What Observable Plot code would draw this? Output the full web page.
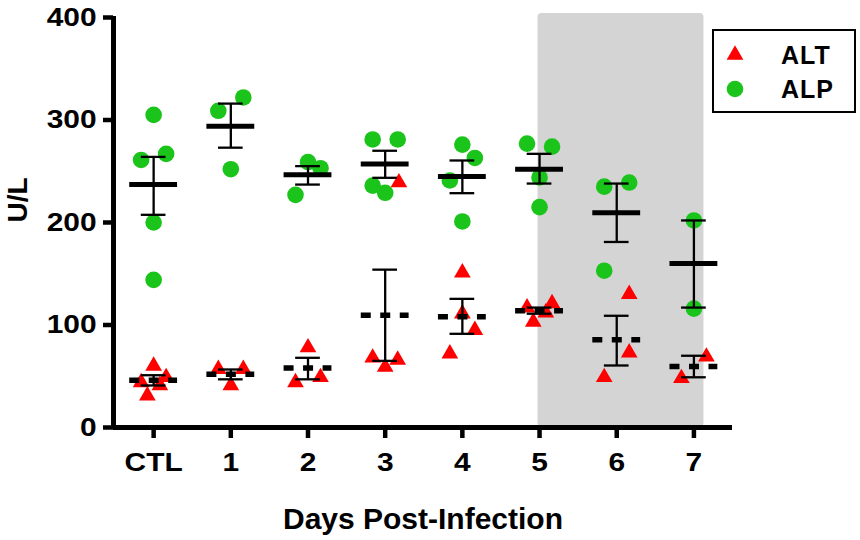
<!DOCTYPE html>
<html>
<head>
<meta charset="utf-8">
<script src="https://cdn.jsdelivr.net/npm/d3@7"></script>
<script src="https://cdn.jsdelivr.net/npm/@observablehq/plot@0.6"></script>
<style>
  html, body { margin: 0; padding: 0; background: #fff; }
  #wrap { position: relative; width: 860px; height: 540px; font-family: "Liberation Sans", Arial, sans-serif; }
  #legend { position: absolute; left: 712px; top: 29px; }
</style>
</head>
<body>
<div id="wrap"></div>
<script>
// Categories
const days = ["CTL", "1", "2", "3", "4", "5", "6", "7"];
const dayTicks = [0, 1, 2, 3, 4, 5, 6, 7];
const yTicks = [0, 100, 200, 300, 400];

// ALP individual values (green circles); slot = side-by-side placement within a day
const alpDay   = [0,0,0,0,0, 1,1,1, 2,2,2, 3,3,3,3, 4,4,4,4, 5,5,5,5, 6,6,6, 7,7];
const alpValue = [305,261,267,200,144, 309,322,252, 259,253,227, 281,281,236,229, 276,263,241,201, 277,274,244,215, 235,239,153, 202,116];
const alpSlot  = [0,-1,1,0,0, -1,1,0, 0,1,-1, -1,1,-1,0, 0,1,-1,0, -1,1,0,0, -1,1,-1, 0,0];

// ALT individual values (red triangles)
const altDay   = [0,0,0,0,0, 1,1,1, 2,2,2, 3,3,3,3, 4,4,4,4, 5,5,5,5, 6,6,6, 7,7];
const altValue = [60,44,49,31,41, 57,57,41, 78,44,49, 68,66,59,239, 151,111,95,72, 117,121,112,103, 130,73,49, 69,48];
const altSlot  = [0,-1,1,-0.5,0.5, -1,1,0, 0,-1,1, -1,1,0,1.1, 0,0,1,-1, -1,1,0.5,-0.5, 1,1,-1, 1,-1];

// Mean ± SEM per day
const alpMean = [237, 294, 246.5, 257, 245, 252, 209.5, 160];
const alpLow  = [207.5, 273, 237, 243.6, 228.6, 238, 181, 117];
const alpHigh = [264, 316, 255, 270, 260.5, 267, 238, 202];
const altMean = [46, 52, 58, 109.5, 108, 114, 85.5, 59.5];
const altLow  = [41, 47, 47, 65, 91.4, 111, 60.5, 49];
const altHigh = [51, 56.6, 68, 154, 125.5, 117, 109, 70];

// Shaded period (days 5 to 7)
const shaded = [{from: 5, to: 7}];

const RED = "#ff0000";
const GREEN = "#1ac41a";
const JIT = 0.162;

const alp = alpDay.map((d, i) => ({day: d, value: alpValue[i], slot: alpSlot[i]}));
const alt = altDay.map((d, i) => ({day: d, value: altValue[i], slot: altSlot[i]}));
const summary = dayTicks.map((d, i) => ({
  day: d,
  alpMean: alpMean[i], alpLow: alpLow[i], alpHigh: alpHigh[i],
  altMean: altMean[i], altLow: altLow[i], altHigh: altHigh[i]
}));

const HALF = 0.31, CAP = 0.16, SEMW = 2.3;

const chart = Plot.plot({
  width: 860,
  height: 540,
  marginLeft: 113,
  marginRight: 128,
  marginTop: 17,
  marginBottom: 113,
  style: {fontFamily: "'Liberation Sans', Arial, sans-serif", fontWeight: "bold", background: "#fff", color: "#000"},
  x: {domain: [-0.52, 7.5], axis: null},
  y: {domain: [0, 400], axis: null},
  marks: [
    Plot.rect(shaded, {x1: d => d.from - 0.02, x2: d => d.to + 0.13, y1: 0, y2: 404, fill: "#d4d4d4", rx: 4}),
    Plot.axisY({ticks: yTicks, tickSize: 10, tickPadding: 7, strokeWidth: 4.5, fontSize: 26, fontWeight: "bold", label: null, tickFormat: d => d}),
    Plot.axisX({ticks: dayTicks, tickSize: 11, tickPadding: 14, strokeWidth: 4.5, fontSize: 26, fontWeight: "bold", label: null, tickFormat: d => days[d]}),
    Plot.ruleX([-0.52], {y1: 0, y2: 401, strokeWidth: 5}),
    Plot.ruleY([0], {x1: -0.52, x2: 7.5, strokeWidth: 5}),
    Plot.dot(alp, {x: d => d.day + d.slot * JIT, y: "value", r: 8.3, symbol: "circle", fill: GREEN}),
    Plot.dot(alt, {x: d => d.day + d.slot * JIT, y: "value", r: 6.2, symbol: "triangle", fill: RED}),
    // ALP mean ± SEM
    Plot.ruleX(summary, {x: "day", y1: "alpLow", y2: "alpHigh", strokeWidth: SEMW}),
    Plot.ruleY(summary, {y: "alpLow", x1: d => d.day - CAP, x2: d => d.day + CAP, strokeWidth: SEMW}),
    Plot.ruleY(summary, {y: "alpHigh", x1: d => d.day - CAP, x2: d => d.day + CAP, strokeWidth: SEMW}),
    Plot.ruleY(summary, {y: "alpMean", x1: d => d.day - HALF, x2: d => d.day + HALF, strokeWidth: 5}),
    // ALT mean ± SEM
    Plot.ruleX(summary, {x: "day", y1: "altLow", y2: "altHigh", strokeWidth: SEMW}),
    Plot.ruleY(summary, {y: "altLow", x1: d => d.day - CAP, x2: d => d.day + CAP, strokeWidth: SEMW}),
    Plot.ruleY(summary, {y: "altHigh", x1: d => d.day - CAP, x2: d => d.day + CAP, strokeWidth: SEMW}),
    Plot.ruleY(summary, {y: "altMean", x1: d => d.day - HALF, x2: d => d.day + HALF, strokeWidth: 5.5, strokeDasharray: "10,9.5"}),
    // axis titles
    Plot.text(["Days Post-Infection"], {frameAnchor: "bottom", dy: 101, lineAnchor: "bottom", fontSize: 30, fontWeight: "bold"}),
    Plot.text(["U/L"], {frameAnchor: "left", dx: -95, rotate: -90, fontSize: 28, fontWeight: "bold"})
  ]
});

// widen the tick-label glyphs horizontally, as in the reference (scale about each label's anchor)
d3.select(chart).selectAll('g[aria-label="x-axis tick label"] text, g[aria-label="y-axis tick label"] text').each(function() {
  const tr = this.getAttribute("transform");
  if (tr) this.setAttribute("transform", tr + " scale(1.15,1)");
});

const wrap = document.getElementById("wrap");
wrap.appendChild(chart);

// Legend
const leg = d3.select(wrap).append("svg").attr("id", "legend").attr("width", 146).attr("height", 86);
leg.append("rect").attr("x", 1).attr("y", 1).attr("width", 142).attr("height", 82)
  .attr("fill", "#fff").attr("stroke", "#000").attr("stroke-width", 2);
const items = [
  {label: "ALT", color: RED, symbol: d3.symbolTriangle, size: Math.PI * 6.2 * 6.2},
  {label: "ALP", color: GREEN, symbol: d3.symbolCircle, size: Math.PI * 8.3 * 8.3}
];
items.forEach((it, i) => {
  const cy = 26 + i * 34;
  leg.append("path").attr("d", d3.symbol(it.symbol, it.size)()).attr("transform", `translate(23,${cy})`).attr("fill", it.color);
  leg.append("text").attr("x", 69).attr("y", cy + 9).attr("font-size", 25).attr("font-weight", "bold")
    .attr("letter-spacing", "1px")
    .attr("font-family", "'Liberation Sans', Arial, sans-serif").text(it.label);
});
</script>
</body>
</html>
